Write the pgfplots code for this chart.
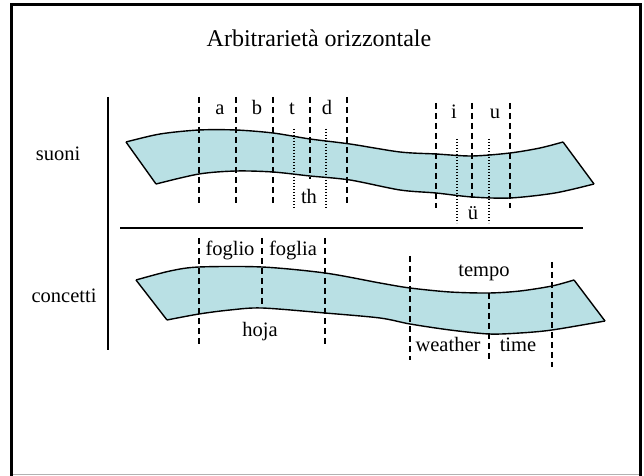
\documentclass[border=0pt]{standalone}
\usepackage{pgfplots}
\pgfplotsset{compat=1.18}
\usepgfplotslibrary{fillbetween}
\usepackage{fontspec}
\setmainfont{Liberation Serif}
\definecolor{band}{RGB}{185,224,228}
\newcommand\lab{\fontsize{20.5bp}{24bp}\selectfont}
\begin{document}
\begin{tikzpicture}
\begin{axis}[
  scale only axis, width=629bp, height=469.5bp,
  xmin=11.5, xmax=640.5, ymin=4.5, ymax=474, y dir=reverse,
  ticks=none, axis line style={black, line width=3bp}, clip=false,
  every axis plot/.append style={line width=1.4bp},
]
% bounding box
\path (axis cs:0,0) -- (axis cs:644,475);
% bottom edge of frame: thin grey
\addplot[white, line width=3.4bp] coordinates {(13.2,474) (638.8,474)};
\addplot[gray!60, line width=1bp] coordinates {(13,474.5) (639,474.5)};
% upper band
\addplot[name path=UT, black, smooth, tension=0.5] coordinates {
 (126,142) (160,134) (199,130) (236,130) (273,133) (310,139) (350,144)
 (400,152) (436,154) (472,156) (510,153) (540,148) (563,142)};
\addplot[name path=UB, black, smooth, tension=0.5] coordinates {
 (156,184) (199,174) (236,171) (273,172) (310,176) (350,180)
 (400,190) (436,193) (472,197) (510,198) (555,193) (594,184)};
\addplot[band] fill between[of=UT and UB];
\addplot[black] coordinates {(126,142) (156,184)};
\addplot[black] coordinates {(563,142) (594,184)};
% lower band
\addplot[name path=LT, black, smooth, tension=0.5] coordinates {
 (136,280) (170,271) (199,267) (262,267) (325,273) (380,283)
 (410,288) (450,292) (489,293) (520,291) (552,286) (574,280)};
\addplot[name path=LB, black, smooth, tension=0.5] coordinates {
 (167,320) (199,314) (230,310) (262,308) (325,313) (380,318)
 (410,324) (450,330) (489,334) (520,333) (552,330) (605,321)};
\addplot[band] fill between[of=LT and LB];
\addplot[black] coordinates {(136,280) (167,320)};
\addplot[black] coordinates {(574,280) (605,321)};
% axes lines
\addplot[black] coordinates {(108,97) (108,350)};
\addplot[black] coordinates {(120,228) (583,228)};
% dashed separators (upper)
\pgfplotsinvokeforeach{199,236,273,347}{
  \addplot[black, dash pattern=on 6bp off 4bp] coordinates {(#1,97) (#1,203)};
}
\addplot[black, dash pattern=on 6bp off 4bp] coordinates {(310,97) (310,179)};
\addplot[black, dash pattern=on 6bp off 4bp] coordinates {(436,103) (436,208)};
\addplot[black, dash pattern=on 6bp off 4bp] coordinates {(472,103) (472,198)};
\addplot[black, dash pattern=on 6bp off 4bp] coordinates {(510,103) (510,208)};
% dotted
\addplot[black, line width=1.3bp, dash pattern=on 1.5bp off 1.5bp] coordinates {(294,129) (294,208)};
\addplot[black, line width=1.3bp, dash pattern=on 1.5bp off 1.5bp] coordinates {(326,129) (326,208)};
\addplot[black, line width=1.3bp, dash pattern=on 1.5bp off 1.5bp] coordinates {(457,139) (457,223)};
\addplot[black, line width=1.3bp, dash pattern=on 1.5bp off 1.5bp] coordinates {(489,139) (489,223)};
% dashed (lower)
\addplot[black, dash pattern=on 6bp off 4bp] coordinates {(199,238) (199,345)};
\addplot[black, dash pattern=on 6bp off 4bp] coordinates {(262,238) (262,308)};
\addplot[black, dash pattern=on 6bp off 4bp] coordinates {(325,238) (325,345)};
\addplot[black, dash pattern=on 6bp off 4bp] coordinates {(410,256) (410,360)};
\addplot[black, dash pattern=on 6bp off 4bp] coordinates {(489,293) (489,360)};
\addplot[black, dash pattern=on 6bp off 4bp] coordinates {(552,262) (552,367)};
% texts
\node[anchor=base, font=\fontsize{24bp}{28bp}\selectfont] at (axis cs:319,47) {Arbitrarietà orizzontale};
\node[anchor=base, font=\lab] at (axis cs:58,161) {suoni};
\node[anchor=base, font=\lab] at (axis cs:64,303) {concetti};
\node[anchor=base, font=\lab] at (axis cs:220,115) {a};
\node[anchor=base, font=\lab] at (axis cs:257,115) {b};
\node[anchor=base, font=\lab] at (axis cs:292,115) {t};
\node[anchor=base, font=\lab] at (axis cs:327,115) {d};
\node[anchor=base, font=\lab] at (axis cs:309,204) {th};
\node[anchor=base, font=\lab] at (axis cs:454,119) {i};
\node[anchor=base, font=\lab] at (axis cs:495,119) {u};
\node[anchor=base, font=\lab] at (axis cs:473,220) {ü};
\node[anchor=base, font=\lab] at (axis cs:230,256) {foglio};
\node[anchor=base, font=\lab] at (axis cs:293,256) {foglia};
\node[anchor=base, font=\lab] at (axis cs:260,337) {hoja};
\node[anchor=base, font=\lab] at (axis cs:484,277) {tempo};
\node[anchor=base, font=\lab] at (axis cs:448,352) {weather};
\node[anchor=base, font=\lab] at (axis cs:518,352) {time};
\end{axis}
\end{tikzpicture}
\end{document}
